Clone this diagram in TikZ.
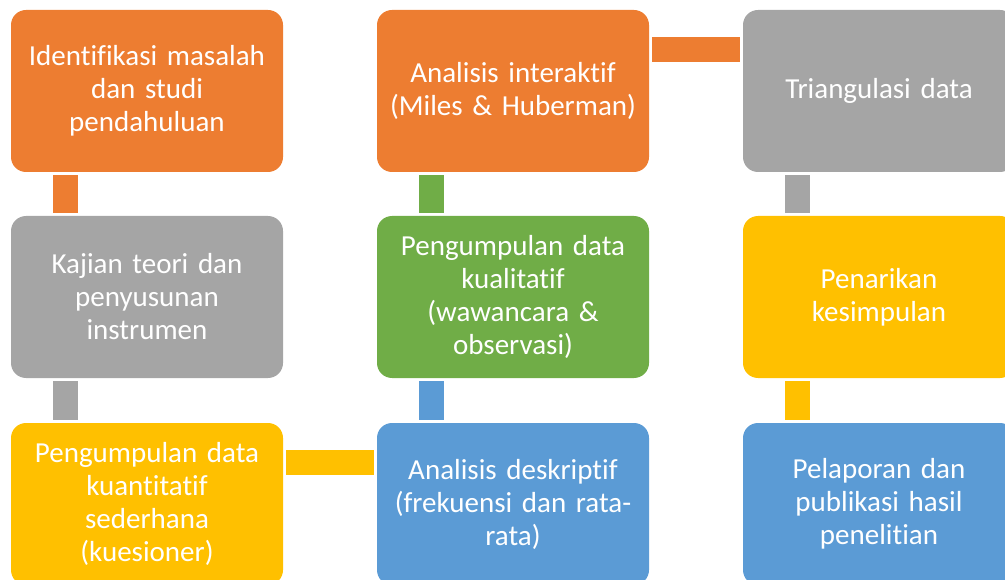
\documentclass[tikz,border=0pt]{standalone}
\usepackage{fontspec}
\setmainfont{Carlito}[Ligatures=NoCommon]
\definecolor{cor}{HTML}{ED7D31}
\definecolor{cgr}{HTML}{A5A5A5}
\definecolor{cyl}{HTML}{FFC000}
\definecolor{cbl}{HTML}{5B9BD5}
\definecolor{cgn}{HTML}{70AD47}
\begin{document}
\begin{tikzpicture}[x=1pt,y=-1pt,
  box/.style={rounded corners=15pt, minimum width=272pt, minimum height=162pt,
    align=center, text=white, font=\fontsize{29}{33}\selectfont, inner sep=0pt, text width=266pt},
  bar/.style={line width=25pt, shorten <=3pt, shorten >=3pt}]
\useasboundingbox (0,0) rectangle (1005,580);
\clip (0,0) rectangle (1005,580);
\node[box, fill=cor] (a) at (147,91) {Identifikasi masalah\\dan studi\\pendahuluan};
\node[box, fill=cgr] (b) at (147,297) {Kajian teori dan\\penyusunan\\instrumen};
\node[box, fill=cyl] (c) at (147,504) {Pengumpulan data\\kuantitatif\\sederhana\\(kuesioner)};
\node[box, fill=cbl] (d) at (513,504) {Analisis deskriptif\\(frekuensi dan rata-\\rata)};
\node[box, fill=cgn] (e) at (513,297) {Pengumpulan data\\kualitatif\\(wawancara \&\\observasi)};
\node[box, fill=cor] (f) at (513,91) {Analisis interaktif\\(Miles \& Huberman)};
\node[box, fill=cgr] (g) at (879,91) {Triangulasi data};
\node[box, fill=cyl] (h) at (879,297) {Penarikan\\kesimpulan};
\node[box, fill=cbl] (i) at (879,504) {Pelaporan dan\\publikasi hasil\\penelitian};
\draw[bar, cor] ([xshift=54.5pt]a.south west) -- ([xshift=54.5pt]b.north west);
\draw[bar, cgr] ([xshift=54.5pt]b.south west) -- ([xshift=54.5pt]c.north west);
\draw[bar, cyl] ([yshift=-39.5pt]c.north east) -- ([yshift=-39.5pt]d.north west);
\draw[bar, cbl] ([xshift=54.5pt]d.north west) -- ([xshift=54.5pt]e.south west);
\draw[bar, cgn] ([xshift=54.5pt]e.north west) -- ([xshift=54.5pt]f.south west);
\draw[bar, cor] ([yshift=-39.5pt]f.north east) -- ([yshift=-39.5pt]g.north west);
\draw[bar, cgr] ([xshift=54.5pt]g.south west) -- ([xshift=54.5pt]h.north west);
\draw[bar, cyl] ([xshift=54.5pt]h.south west) -- ([xshift=54.5pt]i.north west);
\end{tikzpicture}
\end{document}
